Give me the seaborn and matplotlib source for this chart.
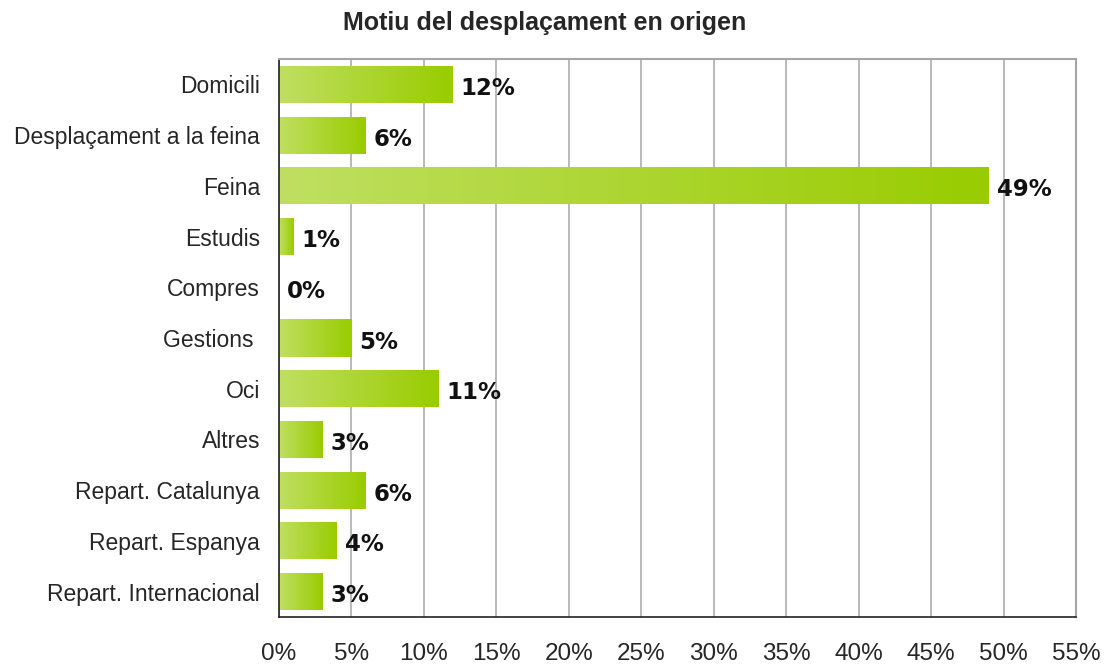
import numpy as np
import pandas as pd
import matplotlib
matplotlib.use("Agg")
import matplotlib.pyplot as plt
import seaborn as sns
from matplotlib.colors import LinearSegmentedColormap

# Values (percent)
motius = ['Domicili', 'Desplaçament a la feina', 'Feina', 'Estudis', 'Compres',
          'Gestions ', 'Oci', 'Altres', 'Repart. Catalunya', 'Repart. Espanya',
          'Repart. Internacional']
percentatges = [12, 6, 49, 1, 0, 5, 11, 3, 6, 4, 3]
x_ticks = [0, 5, 10, 15, 20, 25, 30, 35, 40, 45, 50, 55]
titol = 'Motiu del desplaçament en origen'

df = pd.DataFrame({'motiu': motius, 'pct': percentatges})

sns.set_style('white')
plt.rcParams['font.family'] = ['Liberation Sans', 'DejaVu Sans']

fig, ax = plt.subplots(figsize=(11.09, 6.64), dpi=100)
fig.subplots_adjust(left=0.2516, right=0.9702, top=0.9111, bottom=0.0708)

sns.barplot(data=df, x='pct', y='motiu', orient='h', width=0.73,
            color='#99cc00', edgecolor='none', ax=ax, zorder=2)

# gradient fill (light on the left, stronger green on the right) for each bar
grad = LinearSegmentedColormap.from_list('verd', ['#c0df62', '#99cc00'])
for bar in ax.patches:
    x0, y0 = bar.get_x(), bar.get_y()
    w, h = bar.get_width(), bar.get_height()
    if w <= 0:
        continue
    bar.set_facecolor('none')
    img = ax.imshow(np.linspace(0, 1, 256).reshape(1, -1), cmap=grad, aspect='auto',
                    extent=(x0, x0 + w, y0 + h, y0), zorder=2, interpolation='bicubic')
    img.set_clip_path(bar)

for i, v in enumerate(percentatges):
    ax.text(v + 0.55, i + 0.08, f'{v}%', va='center', ha='left', fontsize=16.5,
            fontweight='bold', family='DejaVu Sans', color='#111111', zorder=3)

ax.set_xlim(0, 55)
ax.set_ylim(len(motius) - 0.5, -0.5)
ax.set_xticks(x_ticks)
ax.set_xticklabels([f'{t}%' for t in x_ticks], fontsize=17.5)
ax.tick_params(axis='x', direction='out', length=5, width=1.2, color='#222222', pad=13.5)
ax.tick_params(axis='y', length=0, pad=13.7, labelsize=16.5)
ax.grid(axis='x', color='#a6a6a6', linewidth=1.1, zorder=0)
ax.set_axisbelow(True)
ax.set_xlabel('')
ax.set_ylabel('')

for side in ['top', 'right']:
    ax.spines[side].set_color('#a6a6a6')
    ax.spines[side].set_linewidth(1.5)
for side in ['left', 'bottom']:
    ax.spines[side].set_color('#222222')
    ax.spines[side].set_linewidth(1.2)

fig.suptitle(titol, x=0.4914, y=0.965, va='center', fontsize=18, fontweight='bold')

fig.savefig('out.png', dpi=100)
